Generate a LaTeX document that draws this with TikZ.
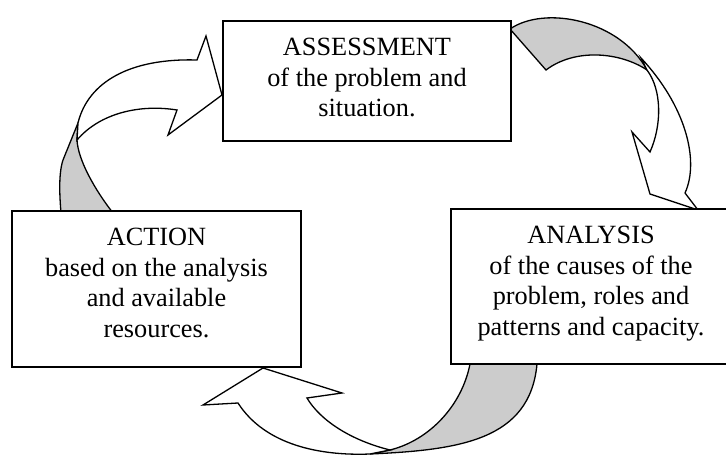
\documentclass[tikz,border=0pt]{standalone}
\usepackage{fontspec}
\setmainfont{Liberation Serif}
\begin{document}
\begin{tikzpicture}[x=1pt,y=-1pt,
  box/.style={draw=black, line width=1.8pt, fill=white, rectangle, inner sep=0pt},
  label/.style={font=\fontsize{26.3}{30.8}\selectfont, align=center, inner sep=0pt, anchor=north},
  twist/.style={draw=black, line width=1.3pt, fill=black!20, line join=miter},
  body/.style={draw=black, line width=1.3pt, fill=white, line join=miter}]
\useasboundingbox (0,0) rectangle (726,455);
% ---- arrow 1: Action -> Assessment
\filldraw[twist] (78,123) -- (63,160) .. controls (58,175) and (60,200) .. (61,213)
  -- (113,213) .. controls (95,190) and (78,160) .. (77,140) -- cycle;
\filldraw[body] (78,123) .. controls (88,82) and (130,58) .. (197,60)
  -- (206,36) -- (222,95) -- (168,135) -- (177,110)
  .. controls (140,104) and (100,113) .. (77,140) -- cycle;
% ---- arrow 2: Assessment -> Analysis
\filldraw[twist] (510,29) .. controls (545,5) and (620,20) .. (647,70)
  .. controls (620,52) and (575,48) .. (546,70) -- cycle;
\filldraw[body] (641,58) .. controls (685,105) and (700,160) .. (685,193)
  -- (698,210) -- (650,194) -- (632,132) -- (650,152)
  .. controls (662,125) and (662,90) .. (647,70) -- cycle;
% ---- arrow 3: Analysis -> Action
\filldraw[twist] (470,364) .. controls (462,405) and (430,440) .. (390,450)
  -- (370,454) .. controls (460,450) and (530,440) .. (537,364) -- cycle;
\filldraw[body] (390,450) .. controls (350,440) and (320,420) .. (307,398)
  -- (342,393) -- (263,368) -- (203,405) -- (238,403)
  .. controls (265,445) and (320,456) .. (370,454) -- cycle;
% ---- boxes
\node[box, minimum width=288pt, minimum height=120pt] (assess) at (367,81) {};
\node[box, minimum width=289pt, minimum height=156pt] (action) at (156.5,289) {};
\node[box, minimum width=280pt, minimum height=155pt] (analysis) at (591,286.5) {};
% ---- texts
\node[label] (assess-t) at (367,37.6) {ASSESSMENT\\of the problem and\\situation.};
\node[label] (action-t) at (156.5,227.6) {ACTION\\based on the analysis\\and available\\resources.};
\node[label] (analysis-t) at (591,225.6) {ANALYSIS\\of the causes of the\\problem, roles and\\patterns and capacity.};
\end{tikzpicture}
\end{document}
